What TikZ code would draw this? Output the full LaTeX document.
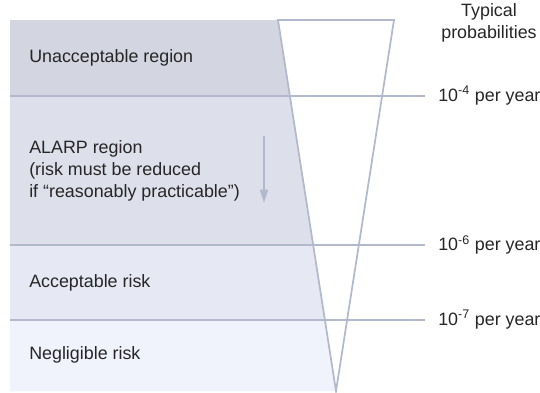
\documentclass[tikz,border=0pt]{standalone}
\usepackage{fontspec}
\setmainfont{Liberation Sans}
\usetikzlibrary{arrows.meta,calc}

\definecolor{zoneUnacc}{HTML}{D3D6E0}
\definecolor{zoneAlarp}{HTML}{DDE0EA}
\definecolor{zoneAcc}{HTML}{E6E9F3}
\definecolor{zoneNeg}{HTML}{F0F3FC}
\definecolor{lineBlue}{HTML}{B2B9CC}
\definecolor{textGray}{HTML}{262626}

\begin{document}
\begin{tikzpicture}[x=0.75pt,y=-0.75pt,
	every node/.style={font=\fontsize{13.4}{16.6}\selectfont,text=textGray,inner sep=0pt},
	levelline/.style={draw=lineBlue,line width=1.3pt},
	ratelabel/.style={anchor=west}]
	\useasboundingbox (0,0) rectangle (540,393);
	% funnel corners
	\coordinate (TopL) at (278,20);
	\coordinate (TopR) at (394,20);
	\coordinate (Tip)  at (336,391);
	\coordinate (EdgeA) at ($(TopL)!0.2049!(Tip)$);
	\coordinate (EdgeB) at ($(TopL)!0.6065!(Tip)$);
	\coordinate (EdgeC) at ($(TopL)!0.8086!(Tip)$);

	% shaded zones
	\fill[zoneUnacc] (10,20) -- (TopL) -- (EdgeA) -- (10,96) -- cycle;
	\fill[zoneAlarp] (10,96) -- (EdgeA) -- (EdgeB) -- (10,245) -- cycle;
	\fill[zoneAcc] (10,245) -- (EdgeB) -- (EdgeC) -- (10,320) -- cycle;
	\fill[zoneNeg] (10,320) -- (EdgeC) -- (Tip) -- (10,391) -- cycle;

	% zone texts
	\node[anchor=west] (unacc) at (29,58) {Unacceptable region};
	\node[anchor=west,align=left] (alarp) at (29,171) {ALARP region\\(risk must be reduced\\if “reasonably practicable”)};
	\node[anchor=west] (acc) at (29,283) {Acceptable risk};
	\node[anchor=west] (neg) at (29,355) {Negligible risk};

	% probability scale
	\node[align=center] (typical) at (489,23) {Typical\\probabilities};
	\node[ratelabel] (rateA) at (438,96) {10\textsuperscript{-4} per year};
	\node[ratelabel] (rateB) at (438,245) {10\textsuperscript{-6} per year};
	\node[ratelabel] (rateC) at (438,320) {10\textsuperscript{-7} per year};

	\coordinate (StartA) at (10,96);
	\coordinate (StartB) at (10,245);
	\coordinate (StartC) at (10,320);
	\draw[levelline] (StartA) -- ([xshift=-10pt]rateA.west);
	\draw[levelline] (StartB) -- ([xshift=-10pt]rateB.west);
	\draw[levelline] (StartC) -- ([xshift=-10pt]rateC.west);

	% funnel
	\draw[levelline,line join=miter] (TopL) -- (TopR) -- (Tip) -- cycle;

	% reduce arrow
	\coordinate (ArrTop) at (264,136);
	\coordinate (ArrEnd) at (264,203);
	\draw[lineBlue,line width=1.3pt,-{Triangle[width=6pt,length=10pt]}] (ArrTop) -- (ArrEnd);
\end{tikzpicture}
\end{document}
